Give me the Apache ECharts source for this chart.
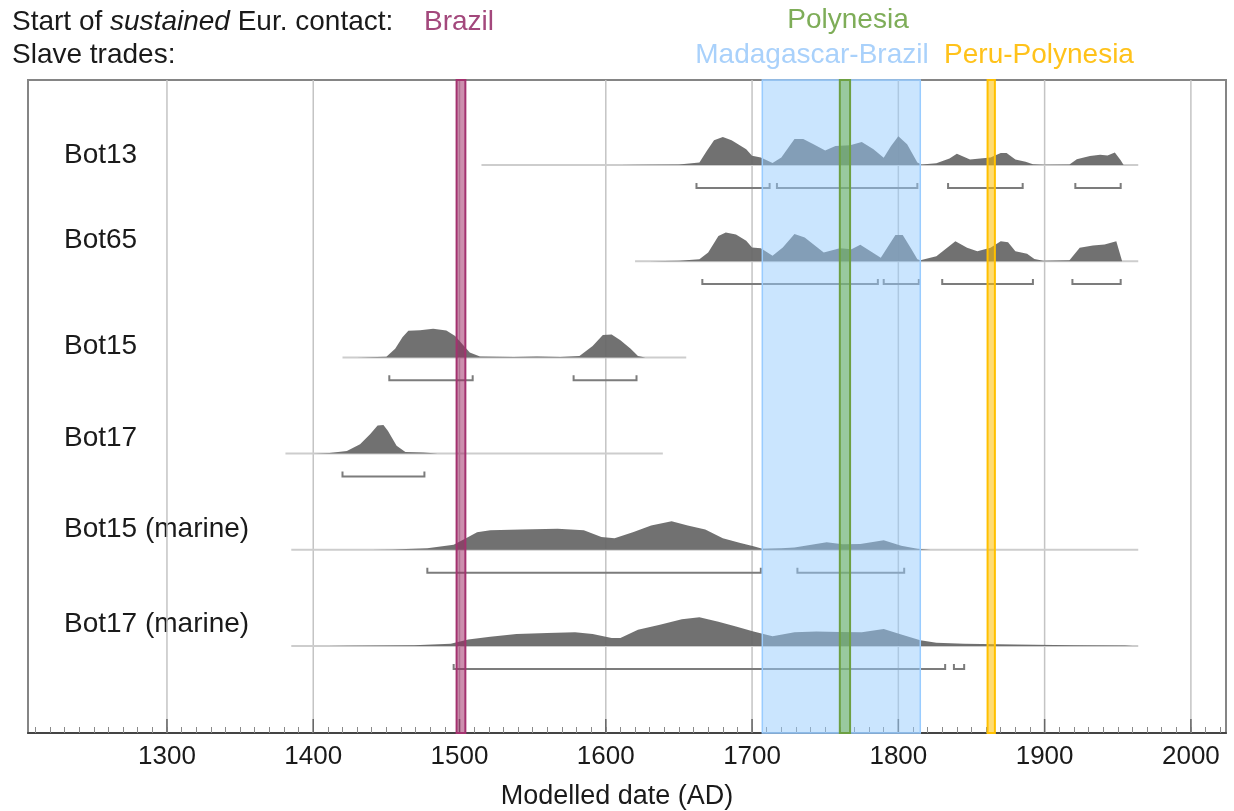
<!DOCTYPE html>
<html>
<head>
<meta charset="utf-8">
<title>Modelled dates</title>
<script src="https://cdn.jsdelivr.net/npm/echarts@6/dist/echarts.min.js"></script>
<style>
  html, body { margin: 0; padding: 0; background: #fff; }
  #chart { width: 1234px; height: 811px; }
</style>
</head>
<body>
<div id="chart"></div>
<script>
// Samples, listed top to bottom
const samples = ['Bot13', 'Bot65', 'Bot15', 'Bot17', 'Bot15 (marine)', 'Bot17 (marine)'];

// Probability densities: [year AD, height as % of the tallest peak of the sample]
const bot13 = [[1610,0],[1625,1],[1650,2],[1664,9],[1669,49],[1674,86],[1680,98],[1686,86],[1696,55],[1700,32],[1706,26],[1714,7],[1720,26],[1729,91],[1735,91],[1742,72],[1750,51],[1757,66],[1767,69],[1775,80],[1783,55],[1790,25],[1795,66],[1800,100],[1806,72],[1813,9],[1816,2],[1826,6],[1835,23],[1840,39],[1849,19],[1856,23],[1863,26],[1870,42],[1874,42],[1880,19],[1887,11],[1892,3],[1899,1],[1917,2],[1922,20],[1931,31],[1938,36],[1943,33],[1948,44],[1952,17],[1954,0]];
const bot65 = [[1630,0],[1650,2],[1664,7],[1670,30],[1677,88],[1682,100],[1689,93],[1696,71],[1700,48],[1706,45],[1714,19],[1721,48],[1729,95],[1736,83],[1749,30],[1760,45],[1768,42],[1774,57],[1788,12],[1798,91],[1803,91],[1809,42],[1813,7],[1815,3],[1826,17],[1839,70],[1847,47],[1854,35],[1863,47],[1870,70],[1875,66],[1880,35],[1888,26],[1893,8],[1899,2],[1917,3],[1924,47],[1933,55],[1941,58],[1949,70],[1953,0]];
const bot15 = [[1430,0],[1450,2],[1456,30],[1461,70],[1465,93],[1473,95],[1482,100],[1491,94],[1497,75],[1502,46],[1507,17],[1514,3],[1537,1],[1553,3],[1569,1],[1582,5],[1591,40],[1598,78],[1604,80],[1610,60],[1617,30],[1622,5],[1627,0]];
const bot17 = [[1400,0],[1411,2],[1423,9],[1432,33],[1439,68],[1444,98],[1448,100],[1451,80],[1457,27],[1463,6],[1475,4],[1485,0]];
const bot15Marine = [[1440,0],[1454,1],[1478,5],[1496,18],[1506,45],[1512,61],[1521,68],[1542,71],[1567,73],[1585,68],[1597,45],[1606,40],[1619,62],[1631,85],[1645,100],[1656,85],[1668,71],[1680,40],[1692,24],[1701,12],[1707,4],[1720,5],[1729,8],[1751,26],[1762,19],[1774,20],[1790,33],[1802,14],[1813,4],[1822,0]];
const bot17Marine = [[1410,0],[1423,1],[1469,3],[1494,8],[1506,23],[1521,32],[1539,42],[1560,45],[1579,48],[1591,42],[1604,28],[1610,28],[1622,57],[1637,74],[1652,93],[1664,100],[1677,85],[1689,68],[1701,51],[1714,34],[1729,48],[1744,51],[1760,49],[1775,48],[1790,59],[1802,40],[1815,20],[1826,11],[1845,8],[1880,5],[1920,3],[1955,2],[1960,0]];
const densities = [bot13, bot65, bot15, bot17, bot15Marine, bot17Marine];

// Full extent of each modelled distribution [from, to]
const spans = [[1515,1964],[1620,1964],[1420,1655],[1381,1639],[1385,1964],[1385,1964]];

// Highest posterior density ranges per sample
const hpdRanges = [
  [[1662,1712],[1717,1813],[1834,1885],[1921,1952]],
  [[1666,1786],[1790,1814],[1830,1892],[1919,1952]],
  [[1452,1509],[1578,1621]],
  [[1420,1476]],
  [[1478,1706],[1731,1804]],
  [[1496,1832],[1838,1845]]
];

// Contact periods and slave trades
const bandNames = ['Brazil', 'Madagascar-Brazil', 'Polynesia', 'Peru-Polynesia'];
const bandStart = [1498, 1707, 1760, 1861];
const bandEnd   = [1504, 1815, 1767, 1866];

// Axis ticks
const gridYears = [1300, 1400, 1500, 1600, 1700, 1800, 1900, 2000];
const minorTickYears = Array.from({ length: 82 }, (_, k) => 1210 + 10 * k);

// ---- styling / layout ----
const FONT = "'Liberation Sans', Arial, sans-serif";
const X_MIN = 1205, X_MAX = 2024;
const Y_MIN = -0.9044, Y_MAX = 5.8836;
const PEAK = 0.298;          // height of a 100% peak in row units
const BRACKET_DROP = 0.238;  // range brackets sit below the baseline
const BRACKET_HOOK = 0.052;
const rowBase = i => samples.length - 1 - i;

const bandStyles = [
  { fill: 'rgba(153,31,93,0.5)',  stroke: '#a3326f', lw: 2 },
  { fill: 'rgba(150,203,253,0.5)', stroke: '#99ccff', lw: 1.5 },
  { fill: 'rgba(103,173,61,0.5)', stroke: '#6da043', lw: 2 },
  { fill: 'rgba(255,192,0,0.55)', stroke: '#ffc000', lw: 2 }
];
const labelY = [155, 240, 346, 438, 529, 624];

const chart = echarts.init(document.getElementById('chart'));

const headerText = (x, y, text, color, align) => ({
  type: 'text', x, y, silent: true,
  style: { text, fill: color, fontSize: 28, fontFamily: FONT, align: align || 'left', verticalAlign: 'middle' }
});

const graphic = [
  {
    type: 'text', x: 12, y: 22, silent: true,
    style: {
      text: '{a|Start of }{i|sustained}{a| Eur. contact:}',
      verticalAlign: 'middle',
      rich: {
        a: { fontSize: 28, fontFamily: FONT, fill: '#1a1a1a' },
        i: { fontSize: 28, fontFamily: FONT, fill: '#1a1a1a', fontStyle: 'italic' }
      }
    }
  },
  headerText(12, 55, 'Slave trades:', '#1a1a1a'),
  headerText(424, 22, bandNames[0], '#a3487c'),
  headerText(812, 55, bandNames[1], '#a9d1fb', 'center'),
  headerText(848, 20, bandNames[2], '#7ead58', 'center'),
  headerText(1039, 55, bandNames[3], '#ffc21a', 'center')
].concat(samples.map((s, i) => headerText(64, labelY[i], s, '#1a1a1a')));

const option = {
  animation: false,
  backgroundColor: '#fff',
  grid: {
    left: 28, right: 8, top: 80, bottom: 78, outerBoundsMode: 'none',
    show: true, borderColor: '#858585', borderWidth: 2
  },
  xAxis: {
    type: 'value', min: X_MIN, max: X_MAX,
    name: 'Modelled date (AD)', nameLocation: 'middle', nameGap: 50,
    nameTextStyle: { fontSize: 27, color: '#1a1a1a', fontFamily: FONT, padding: [0, 20, 0, 0] },
    axisLine: { show: true, onZero: false, lineStyle: { color: '#444', width: 2 } },
    axisTick: { show: true, inside: true, length: 6, customValues: minorTickYears, lineStyle: { color: '#8a8a8a', width: 1 } },
    axisLabel: {
      show: true, customValues: gridYears, fontSize: 26, color: '#1a1a1a', fontFamily: FONT, margin: 11,
      formatter: v => String(v)
    },
    splitLine: { show: false }
  },
  yAxis: { type: 'value', min: Y_MIN, max: Y_MAX, show: false },
  graphic,
  series: [
    // vertical century lines with a stronger tick at the axis
    {
      type: 'custom', z: 1, silent: true,
      data: gridYears.map(y => [y, Y_MIN]),
      renderItem(params, api) {
        const top = api.coord([api.value(0), Y_MAX]);
        const bot = api.coord([api.value(0), Y_MIN]);
        return {
          type: 'group', children: [
            { type: 'line', shape: { x1: top[0], y1: top[1], x2: bot[0], y2: bot[1] }, style: { stroke: '#c4c4c4', lineWidth: 1.5 } },
            { type: 'line', shape: { x1: bot[0], y1: bot[1] - 14, x2: bot[0], y2: bot[1] }, style: { stroke: '#666', lineWidth: 1.5 } }
          ]
        };
      }
    },
    // thin extent line under each distribution
    {
      type: 'custom', z: 2, silent: true,
      data: spans.map((s, i) => [s[0], rowBase(i)]),
      renderItem(params, api) {
        const i = params.dataIndex;
        const a = api.coord([spans[i][0], rowBase(i)]);
        const b = api.coord([spans[i][1], rowBase(i)]);
        return { type: 'line', shape: { x1: a[0], y1: a[1], x2: b[0], y2: b[1] }, style: { stroke: '#cdcdcd', lineWidth: 2 } };
      }
    },
    // probability densities
    {
      type: 'custom', z: 3, silent: true,
      data: densities.map((d, i) => [d[0][0], rowBase(i)]),
      renderItem(params, api) {
        const i = params.dataIndex;
        const base = rowBase(i);
        const d = densities[i];
        const pts = [api.coord([d[0][0], base])];
        d.forEach(([yr, h]) => pts.push(api.coord([yr, base + h / 100 * PEAK])));
        pts.push(api.coord([d[d.length - 1][0], base]));
        return { type: 'polygon', shape: { points: pts }, style: { fill: '#666666', opacity: 0.93 } };
      }
    },
    // HPD range brackets
    {
      type: 'custom', z: 3, silent: true,
      data: hpdRanges.flatMap((rs, i) => rs.map(r => [r[0], r[1], rowBase(i)])),
      encode: { x: [0, 1], y: 2 },
      renderItem(params, api) {
        const y0 = api.value(2) - BRACKET_DROP;
        const a = api.value(0), b = api.value(1);
        const pts = [
          api.coord([a, y0 + BRACKET_HOOK]), api.coord([a, y0]),
          api.coord([b, y0]), api.coord([b, y0 + BRACKET_HOOK])
        ];
        return { type: 'polyline', shape: { points: pts }, style: { stroke: '#7c7c7c', lineWidth: 2, fill: null } };
      }
    },
    // contact and slave-trade periods
    {
      type: 'custom', z: 5, silent: true,
      data: bandStart.map((s, k) => [s, bandEnd[k]]),
      encode: { x: [0, 1] },
      renderItem(params, api) {
        const k = params.dataIndex;
        const p0 = api.coord([bandStart[k], Y_MAX]);
        const p1 = api.coord([bandEnd[k], Y_MIN]);
        const st = bandStyles[k];
        return {
          type: 'rect',
          shape: { x: p0[0], y: p0[1], width: p1[0] - p0[0], height: p1[1] - p0[1] },
          style: { fill: st.fill, stroke: st.stroke, lineWidth: st.lw }
        };
      }
    }
  ]
};

chart.setOption(option);
</script>
</body>
</html>
